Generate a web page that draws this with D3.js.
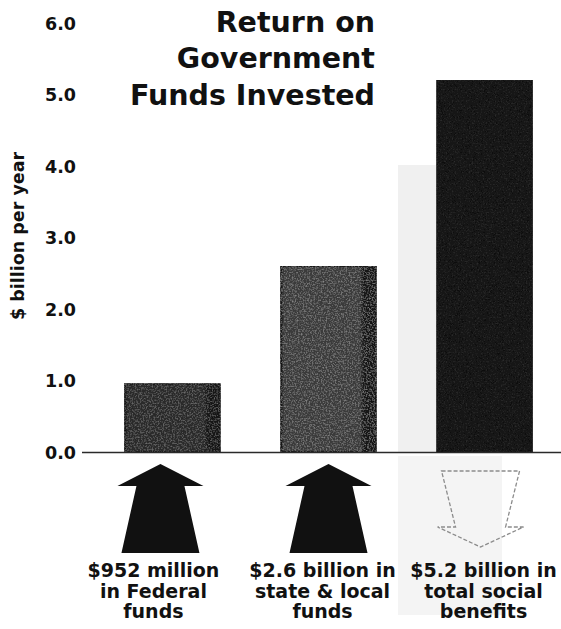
<!DOCTYPE html>
<html>
<head>
<meta charset="utf-8">
<script src="https://cdn.jsdelivr.net/npm/d3@7"></script>
<style>
  html, body { margin: 0; padding: 0; background: #fff; }
  svg { display: block; }
  text { font-family: "DejaVu Sans", Verdana, sans-serif; font-weight: bold; fill: #111; }
</style>
</head>
<body>
<svg id="chart" width="561" height="629"></svg>
<script>
// ---- data ----
const categories = ["Federal funds", "State & local funds", "Total social benefits"];
const values = [0.952, 2.6, 5.2];            // $ billion per year
const tickValues = [0, 1, 2, 3, 4, 5, 6];
const titleLines = ["Return on", "Government", "Funds Invested"];
const yAxisTitle = "$ billion per year";
const labelLines = [
  ["$952 million", "in Federal", "funds"],
  ["$2.6 billion in", "state & local", "funds"],
  ["$5.2 billion in", "total social", "benefits"]
];
const arrowDirections = ["up", "up", "down"];

// ---- layout ----
const W = 561, H = 629;
const svg = d3.select("#chart");

const x = d3.scaleBand()
  .domain(categories)
  .range([64, 593])
  .paddingInner(0.39)
  .paddingOuter(0.39);

const y = d3.scaleLinear().domain([0, 6]).range([452, 23]);

const defs = svg.append("defs");

// paper grain used on the bars
const grainLevels = [0.32, 0.5, 0.05];
grainLevels.forEach((amp, i) => {
  const f = defs.append("filter").attr("id", "grain" + i)
    .attr("x", 0).attr("y", 0).attr("width", 1).attr("height", 1);
  f.append("feTurbulence").attr("type", "fractalNoise")
    .attr("baseFrequency", 0.65).attr("numOctaves", 2).attr("seed", 5 + i).attr("result", "n");
  f.append("feColorMatrix").attr("in", "n").attr("type", "matrix")
    .attr("values", `0 0 0 0 0.5  0 0 0 0 0.5  0 0 0 0 0.5  ${2 * amp} 0 0 0 ${-amp * 0.9}`)
    .attr("result", "s");
  f.append("feComposite").attr("in", "s").attr("in2", "SourceGraphic")
    .attr("operator", "in").attr("result", "sp");
  const m = f.append("feMerge");
  m.append("feMergeNode").attr("in", "SourceGraphic");
  m.append("feMergeNode").attr("in", "sp");
});

// bar shading: flat face with a darker right edge
const barTones = [
  { face: "#2a2a2a", edge: "#141414" },
  { face: "#3a3a3a", edge: "#181818" },
  { face: "#131313", edge: "#131313" }
];
barTones.forEach((t, i) => {
  const g = defs.append("linearGradient").attr("id", "shade" + i)
    .attr("x1", 0).attr("x2", 1).attr("y1", 0).attr("y2", 0);
  [[0, t.edge], [0.03, t.face], [0.83, t.face], [0.87, t.edge], [1, t.edge]]
    .forEach(([o, c]) => g.append("stop").attr("offset", o).attr("stop-color", c));
});

// faint grey band behind the third column
svg.append("rect").attr("x", 398).attr("y", 165).attr("width", 40).attr("height", 287)
  .attr("fill", "#f0f0f0");
svg.append("rect").attr("x", 398).attr("y", 456).attr("width", 104).attr("height", 159)
  .attr("fill", "#f4f4f4");

// bars
svg.append("g").selectAll("rect")
  .data(values)
  .join("rect")
  .attr("x", (d, i) => x(categories[i]))
  .attr("width", x.bandwidth())
  .attr("y", d => y(d))
  .attr("height", d => y(0) - y(d))
  .attr("fill", (d, i) => `url(#shade${i})`)
  .attr("filter", (d, i) => `url(#grain${i})`)
  .attr("stroke", "#161616")
  .attr("stroke-width", 1.5);

// baseline
svg.append("line")
  .attr("x1", 82).attr("x2", W)
  .attr("y1", y(0) + 0.5).attr("y2", y(0) + 0.5)
  .attr("stroke", "#2a2a2a").attr("stroke-width", 1.6);

// y axis labels
const yAxis = d3.axisLeft(y)
  .tickValues(tickValues)
  .tickFormat(d3.format(".1f"))
  .tickSize(0)
  .tickPadding(0);
const gy = svg.append("g").attr("transform", "translate(76,0)").call(yAxis);
gy.select(".domain").remove();
gy.selectAll("text")
  .style("font-family", '"DejaVu Sans", Verdana, sans-serif')
  .style("font-weight", "bold")
  .style("font-size", "17.5px")
  .attr("fill", "#111")
  .attr("dy", "0.36em");

// y axis title
svg.append("text")
  .attr("transform", "translate(24,236) rotate(-90)")
  .attr("text-anchor", "middle")
  .style("font-size", "17.5px")
  .text(yAxisTitle);

// chart title
svg.append("text")
  .attr("text-anchor", "end")
  .style("font-size", "28.5px")
  .selectAll("tspan")
  .data(titleLines)
  .join("tspan")
  .attr("x", 375)
  .attr("y", (d, i) => 31.5 + i * 36.8)
  .text(d => d);

// arrows below the bars
const arrowShift = [-12, 0, -4];
const upArrow = [[0, 0], [43, 22], [24, 22], [39, 89], [-39, 89], [-24, 22], [-43, 22]];
const downArrow = [[-39, 0], [39, 0], [25, 56], [43, 56], [0, 76], [-43, 56], [-25, 56]];
const line = d3.line().curve(d3.curveLinearClosed);

const arrows = svg.append("g");
arrowDirections.forEach((dir, i) => {
  const cx = x(categories[i]) + x.bandwidth() / 2 + arrowShift[i];
  if (dir === "up") {
    arrows.append("path")
      .attr("transform", `translate(${cx},464)`)
      .attr("d", line(upArrow))
      .attr("fill", "#111");
  } else {
    arrows.append("path")
      .attr("transform", `translate(${cx},471)`)
      .attr("d", line(downArrow))
      .attr("fill", "none")
      .attr("stroke", "#8c8c8c")
      .attr("stroke-width", 1.3)
      .attr("stroke-dasharray", "4 2");
  }
});

// category labels
const labelShift = [-19, -6, -1];
const labels = svg.append("g");
labelLines.forEach((lines, i) => {
  const cx = x(categories[i]) + x.bandwidth() / 2 + labelShift[i];
  labels.append("text")
    .attr("text-anchor", "middle")
    .style("font-size", "19px")
    .selectAll("tspan")
    .data(lines)
    .join("tspan")
    .attr("x", cx)
    .attr("y", (d, k) => 577 + k * 20.5)
    .text(d => d);
});
</script>
</body>
</html>
